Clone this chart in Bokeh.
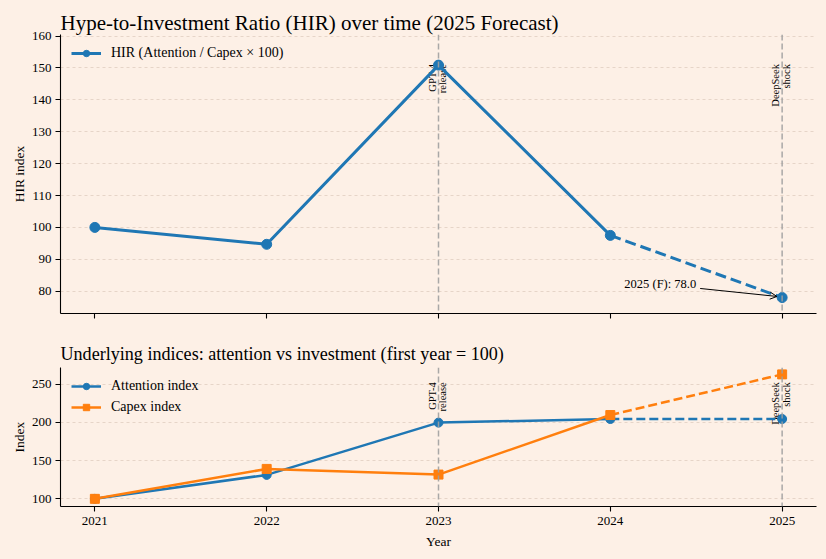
from math import pi
from bokeh.plotting import figure
from bokeh.layouts import column
from bokeh.models import (Span, Label, Arrow, OpenHead, Legend, LegendItem,
                          FixedTicker, Range1d)
from bokeh.core.properties import value
from bokeh.embed import file_html
from bokeh.resources import INLINE

# ---------------- data ----------------
years = [2021, 2022, 2023, 2024, 2025]
hir = [100.0, 94.7, 150.9, 97.5, 78.0]
attention = [100.0, 131.3, 199.6, 204.3, 204.3]
capex = [100.0, 139.1, 131.7, 209.5, 262.6]
event_years = [2023, 2025]
event_line1 = ["GPT-4", "DeepSeek"]
event_line2 = ["release", "shock"]
hir_ticks = [80, 90, 100, 110, 120, 130, 140, 150, 160]
idx_ticks = [100, 150, 200, 250]

FONT = "Liberation Serif"
BG = "#fdf0e6"
BLUE = "#1f77b4"
ORANGE = "#ff7f0e"
GRID = "#e6d5c8"
VLINE = "#a0a0a0"

n_act = 4  # 2021-2024 actual; 2025 forecast


def style(p, yticks, show_xlabels):
    p.outline_line_color = None
    p.xgrid.grid_line_color = None
    p.ygrid.grid_line_color = GRID
    p.ygrid.grid_line_dash = "3 3"
    p.ygrid.grid_line_width = 1
    for ax in (p.xaxis, p.yaxis):
        ax.axis_line_color = "black"
        ax.axis_line_width = 1.1
        ax.major_tick_line_color = "black"
        ax.major_tick_line_width = 1.1
        ax.major_tick_out = 5
        ax.major_tick_in = 0
        ax.minor_tick_line_color = None
        ax.major_label_text_font = FONT
        ax.major_label_text_font_size = "13px"
        ax.major_label_text_color = "black"
        ax.axis_label_text_font = FONT
        ax.axis_label_text_font_style = "normal"
        ax.axis_label_text_font_size = "13.5px"
        ax.axis_label_text_color = "black"
    p.xaxis.ticker = FixedTicker(ticks=years)
    p.yaxis.ticker = FixedTicker(ticks=yticks)
    p.yaxis.major_label_standoff = 4
    p.yaxis.axis_label_standoff = 2
    p.xaxis.major_label_standoff = 5
    p.xaxis.axis_label_standoff = 6
    if not show_xlabels:
        p.xaxis.major_label_overrides = {y: "" for y in years}
    p.title.text_font = FONT
    p.title.text_font_style = "normal"
    p.title.text_color = "black"
    p.title.align = "left"
    p.title.offset = 0


def add_events(p, y_lo, y_hi):
    for yr in event_years:
        p.add_layout(Span(location=yr, dimension="height", line_color=VLINE,
                          line_dash="6 3", line_width=1.5, line_alpha=0.9))
    ly = y_lo + 0.894 * (y_hi - y_lo)
    common = dict(angle=pi / 2, text_align="right", text_baseline="middle",
                  text_font=value(FONT), text_font_size="10.5px", text_color="black")
    p.text(x=event_years, y=[ly] * len(event_years), text=event_line1, x_offset=-6.5, **common)
    p.text(x=event_years, y=[ly] * len(event_years), text=event_line2, x_offset=4, **common)


def make_legend(p, items):
    lg = Legend(items=items, location="top_left")
    lg.background_fill_alpha = 0
    lg.border_line_alpha = 0
    lg.label_text_font = FONT
    lg.label_text_font_size = "14px"
    lg.label_text_color = "black"
    lg.glyph_width = 30
    lg.glyph_height = 16
    lg.label_height = 16
    lg.label_standoff = 10
    lg.spacing = 5
    lg.margin = 1
    lg.padding = 10
    p.add_layout(lg)


# ---------------- top panel ----------------
y1_lo, y1_hi = 73.0, 160.5
p1 = figure(width=810, height=328, x_range=Range1d(2020.8, 2025.2),
            y_range=Range1d(y1_lo, y1_hi), output_backend="svg",
            toolbar_location=None, min_border_left=52, min_border_right=2,
            min_border_top=25, min_border_bottom=23,
            background_fill_color=BG, border_fill_color=BG,
            title="Hype-to-Investment Ratio (HIR) over time (2025 Forecast)")
style(p1, hir_ticks, False)
p1.title.text_font_size = "21px"
p1.title.standoff = 0
p1.yaxis.axis_label = "HIR index"
add_events(p1, y1_lo, y1_hi)

l_hir = p1.line(years[:n_act], hir[:n_act], line_color=BLUE, line_width=3)
p1.line(years[n_act - 1:], hir[n_act - 1:], line_color=BLUE, line_width=3, line_dash="11 5")
s_hir = p1.scatter(years, hir, marker="circle", size=10, fill_color=BLUE, line_color=BLUE)
make_legend(p1, [LegendItem(label="HIR (Attention / Capex × 100)", renderers=[l_hir, s_hir])])

p1.add_layout(Label(x=years[-1] - 0.5, y=hir[-1] + 4.1, text=f"2025 (F): {hir[-1]:.1f}",
                    text_align="right", text_baseline="middle", text_font=FONT,
                    text_font_size="12.5px", text_color="black"))
p1.add_layout(Arrow(x_start=years[-1] - 0.477, y_start=hir[-1] + 2.85,
                    x_end=years[-1] - 0.03, y_end=hir[-1] + 0.35,
                    line_color="black", line_width=1,
                    end=OpenHead(size=7, line_color="black", line_width=1)))

# ---------------- bottom panel ----------------
y2_lo, y2_hi = 90.0, 271.6
p2 = figure(width=810, height=215, x_range=p1.x_range,
            y_range=Range1d(y2_lo, y2_hi), output_backend="svg",
            toolbar_location=None, min_border_left=52, min_border_right=2,
            min_border_top=31, min_border_bottom=45,
            background_fill_color=BG, border_fill_color=BG,
            title="Underlying indices: attention vs investment (first year = 100)")
style(p2, idx_ticks, True)
p2.title.text_font_size = "18.1px"
p2.title.standoff = 8
p2.xaxis.axis_label = "Year"
p2.yaxis.axis_label = "Index"
add_events(p2, y2_lo, y2_hi)

l_att = p2.line(years[:n_act], attention[:n_act], line_color=BLUE, line_width=2.5)
p2.line(years[n_act - 1:], attention[n_act - 1:], line_color=BLUE, line_width=2.5, line_dash="9 4")
s_att = p2.scatter(years, attention, marker="circle", size=9, fill_color=BLUE, line_color=BLUE)
l_cap = p2.line(years[:n_act], capex[:n_act], line_color=ORANGE, line_width=2.5)
p2.line(years[n_act - 1:], capex[n_act - 1:], line_color=ORANGE, line_width=2.5, line_dash="9 4")
s_cap = p2.scatter(years, capex, marker="square", size=9, fill_color=ORANGE, line_color=ORANGE)
make_legend(p2, [LegendItem(label="Attention index", renderers=[l_att, s_att]),
                 LegendItem(label="Capex index", renderers=[l_cap, s_cap])])

layout = column(p1, p2, spacing=0)
html = file_html(layout, INLINE, title="HIR")
css = ("<style>html, body { height: auto !important; margin: 0 !important; "
       "padding: 0 !important; overflow: hidden; background-color: " + BG + "; } "
       "body { padding: 8px !important; }</style>")
html = html.replace("</head>", css + "</head>", 1)
open("out.html", "w").write(html)
